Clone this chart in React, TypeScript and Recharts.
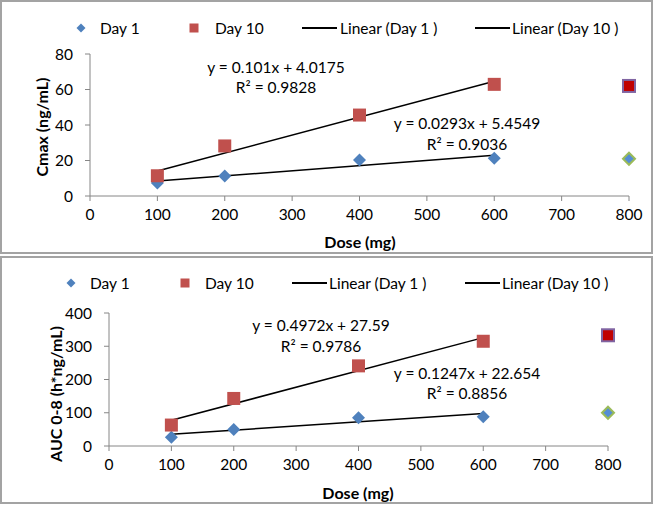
import React from "react";
import { ScatterChart, Scatter, XAxis, YAxis, ReferenceLine } from "recharts";

const doses = [100, 200, 400, 600];
const extraDose = [800];
const trendDoses = [100, 600];
const xTicks = [0, 100, 200, 300, 400, 500, 600, 700, 800];

const cmaxDay1 = [7.3, 11.3, 20.3, 21.2];
const cmaxDay10 = [11.4, 28.2, 45.6, 62.9];
const cmaxExtraDay1 = [21];
const cmaxExtraDay10 = [62];
const cmaxTrendDay1 = [8.4, 23.0];
const cmaxTrendDay10 = [14.1, 64.6];
const cmaxTicks = [0, 20, 40, 60, 80];
const cmaxEquations = ["y = 0.101x + 4.0175", "R² = 0.9828", "y = 0.0293x + 5.4549", "R² = 0.9036"];

const aucDay1 = [26, 50, 85, 88];
const aucDay10 = [63, 143, 241, 315];
const aucExtraDay1 = [100];
const aucExtraDay10 = [333];
const aucTrendDay1 = [35.1, 97.5];
const aucTrendDay10 = [77.3, 325.9];
const aucTicks = [0, 100, 200, 300, 400];
const aucEquations = ["y = 0.4972x + 27.59", "R² = 0.9786", "y = 0.1247x + 22.654", "R² = 0.8856"];

const legendNames = ["Day 1", "Day 10", "Linear (Day 1 )", "Linear (Day 10 )"];

const FONT = "Lato, 'Noto Sans', sans-serif";
const SIZE = 15.5;
const AXIS = "#868686";
const BLUE = "#4F81BD";
const RED = "#C0504D";

const pts = (xs: number[], ys: number[]) => xs.map((x, i) => ({ x, y: ys[i] }));

function Diamond({ cx, cy, fill, stroke, r = 6.5 }: any) {
  return (
    <polygon
      points={`${cx},${cy - r} ${cx + r},${cy} ${cx},${cy + r} ${cx - r},${cy}`}
      fill={fill}
      stroke={stroke || "none"}
      strokeWidth={stroke ? 2 : 0}
    />
  );
}

function Square({ cx, cy, fill, stroke, r = 6.5 }: any) {
  return (
    <rect
      x={cx - r}
      y={cy - r}
      width={r * 2}
      height={r * 2}
      fill={fill}
      stroke={stroke || "none"}
      strokeWidth={stroke ? 2 : 0}
    />
  );
}

function Legend({ top, pos }: { top: number; pos: number[][] }) {
  const txt: React.CSSProperties = { position: "absolute", top: top - 10, fontSize: SIZE, lineHeight: "20px", whiteSpace: "nowrap" };
  return (
    <>
      <svg style={{ position: "absolute", left: pos[0][0] - 5, top: top - 5 }} width={10} height={10}>
        <Diamond cx={5} cy={5} r={4.5} fill={BLUE} />
      </svg>
      <span style={{ ...txt, left: pos[0][1] }}>{legendNames[0]}</span>
      <svg style={{ position: "absolute", left: pos[1][0] - 5, top: top - 5 }} width={10} height={10}>
        <rect x={0.5} y={0.5} width={9} height={9} fill={RED} />
      </svg>
      <span style={{ ...txt, left: pos[1][1] }}>{legendNames[1]}</span>
      <div style={{ position: "absolute", left: pos[2][0], top: top - 1, width: 35, height: 1.5, background: "#000" }} />
      <span style={{ ...txt, left: pos[2][1] }}>{legendNames[2]}</span>
      <div style={{ position: "absolute", left: pos[3][0], top: top - 1, width: 35, height: 1.5, background: "#000" }} />
      <span style={{ ...txt, left: pos[3][1] }}>{legendNames[3]}</span>
    </>
  );
}

function CenterText({ x, y, children, bold, rotate }: any) {
  return (
    <div
      style={{
        position: "absolute",
        left: x,
        top: y,
        transform: `translate(-50%, -50%)${rotate ? " rotate(-90deg)" : ""}`,
        fontSize: bold ? 16 : SIZE,
        fontWeight: bold ? 700 : 400,
        whiteSpace: "nowrap",
        lineHeight: "20px",
      }}
    >
      {children}
    </div>
  );
}

function Panel(props: {
  top: number;
  height: number;
  margin: any;
  yWidth: number;
  xHeight: number;
  yMax: number;
  yTicks: number[];
  d1: number[];
  d10: number[];
  e1: number[];
  e10: number[];
  t1: number[];
  t10: number[];
}) {
  const p = props;
  const tick = { fontSize: SIZE, fill: "#000", fontFamily: FONT };
  return (
    <div style={{ position: "absolute", left: 0, top: p.top }}>
      <ScatterChart width={653} height={p.height} margin={p.margin}>
        <XAxis
          type="number"
          dataKey="x"
          domain={[0, 800]}
          ticks={xTicks}
          interval={0}
          height={p.xHeight}
          stroke={AXIS}
          tickSize={5}
          tickMargin={8}
          tick={tick}
        />
        <YAxis
          type="number"
          dataKey="y"
          domain={[0, p.yMax]}
          ticks={p.yTicks}
          interval={0}
          width={p.yWidth}
          stroke={AXIS}
          tickSize={5}
          tickMargin={12}
          tick={tick}
        />
        <Scatter data={pts(doses, p.d1)} isAnimationActive={false} shape={(s: any) => <Diamond cx={s.cx} cy={s.cy} fill={BLUE} />} />
        <Scatter data={pts(doses, p.d10)} isAnimationActive={false} shape={(s: any) => <Square cx={s.cx} cy={s.cy} fill={RED} />} />
        <Scatter
          data={pts(extraDose, p.e1)}
          isAnimationActive={false}
          shape={(s: any) => <Diamond cx={s.cx} cy={s.cy} r={6} fill="#558ED5" stroke="#9BBB59" />}
        />
        <Scatter
          data={pts(extraDose, p.e10)}
          isAnimationActive={false}
          shape={(s: any) => <Square cx={s.cx} cy={s.cy} r={6} fill="#C00000" stroke="#8064A2" />}
        />
        <ReferenceLine segment={pts(trendDoses, p.t1)} stroke="#000" strokeWidth={1.5} ifOverflow="visible" />
        <ReferenceLine segment={pts(trendDoses, p.t10)} stroke="#000" strokeWidth={1.5} ifOverflow="visible" />
      </ScatterChart>
    </div>
  );
}

export default function App() {
  const box: React.CSSProperties = {
    position: "absolute",
    left: 0,
    width: 653,
    boxSizing: "border-box",
    border: "2px solid #a3a3a3",
  };
  return (
    <div style={{ position: "relative", width: 653, height: 505, fontFamily: FONT, color: "#000", background: "#fff" }}>
      <style>{`body{margin:0}`}</style>
      <div style={{ ...box, top: 0, height: 254 }} />
      <div style={{ ...box, top: 256, height: 248 }} />

      <Panel
        top={0}
        height={253}
        margin={{ top: 54, right: 24, bottom: 0, left: 0 }}
        yWidth={90}
        xHeight={57}
        yMax={80}
        yTicks={cmaxTicks}
        d1={cmaxDay1}
        d10={cmaxDay10}
        e1={cmaxExtraDay1}
        e10={cmaxExtraDay10}
        t1={cmaxTrendDay1}
        t10={cmaxTrendDay10}
      />
      <Legend top={28} pos={[[81, 100], [194, 215], [302, 340], [475, 512]]} />
      <CenterText x={276} y={67}>{cmaxEquations[0]}</CenterText>
      <CenterText x={276} y={87}>{cmaxEquations[1]}</CenterText>
      <CenterText x={467} y={123}>{cmaxEquations[2]}</CenterText>
      <CenterText x={467} y={144}>{cmaxEquations[3]}</CenterText>
      <CenterText x={42} y={127} bold rotate>Cmax (ng/mL)</CenterText>
      <CenterText x={360} y={242} bold>Dose (mg)</CenterText>

      <Panel
        top={255}
        height={250}
        margin={{ top: 58, right: 45, bottom: 0, left: 0 }}
        yWidth={109}
        xHeight={59}
        yMax={400}
        yTicks={aucTicks}
        d1={aucDay1}
        d10={aucDay10}
        e1={aucExtraDay1}
        e10={aucExtraDay10}
        t1={aucTrendDay1}
        t10={aucTrendDay10}
      />
      <Legend top={283} pos={[[71, 90], [185, 205], [292, 329], [465, 502]]} />
      <CenterText x={321} y={325}>{aucEquations[0]}</CenterText>
      <CenterText x={321} y={346}>{aucEquations[1]}</CenterText>
      <CenterText x={467} y={373}>{aucEquations[2]}</CenterText>
      <CenterText x={467} y={393}>{aucEquations[3]}</CenterText>
      <CenterText x={56} y={394} bold rotate>AUC 0-8 (h*ng/mL)</CenterText>
      <CenterText x={358} y={493} bold>Dose (mg)</CenterText>
    </div>
  );
}
